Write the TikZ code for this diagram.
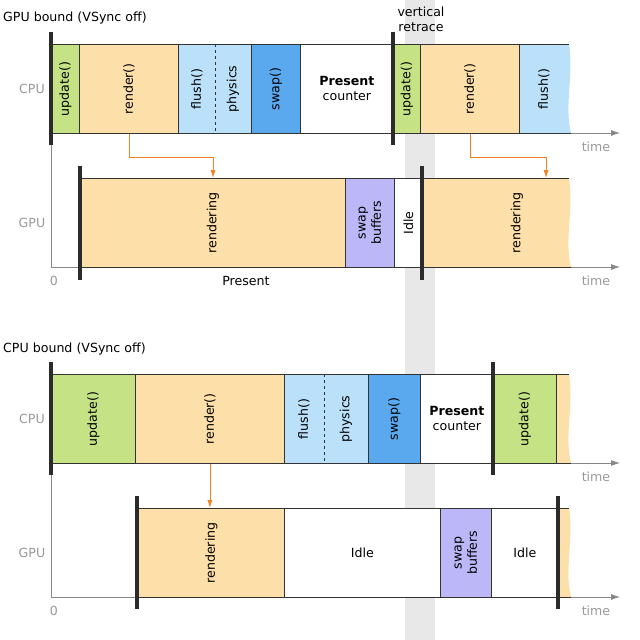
\documentclass[tikz,border=0pt]{standalone}
\usepackage{fontspec}
\setmainfont{DejaVu Sans}
\usetikzlibrary{arrows.meta,calc}
\definecolor{cgreen}{HTML}{C5E384}
\definecolor{corange}{HTML}{FDDFA9}
\definecolor{clblue}{HTML}{BBE0F9}
\definecolor{cblue}{HTML}{5AA9EF}
\definecolor{cpurple}{HTML}{BCB8F8}
\definecolor{cband}{HTML}{E8E8E8}
\definecolor{cedge}{HTML}{333333}
\definecolor{cbar}{HTML}{2B2B2B}
\definecolor{caxis}{HTML}{888888}
\definecolor{clab}{HTML}{999999}
\definecolor{carrow}{HTML}{F58220}
\tikzset{
  blk/.style={draw=cedge, line width=0.8pt, inner sep=0pt, anchor=north west, minimum height=89pt, text=black},
  bar/.style={line width=4.5pt, cbar},
  axis/.style={caxis, line width=0.8pt},
  axisarr/.style={axis, -{Latex[length=9pt,width=6pt]}},
  glab/.style={text=clab, inner sep=0pt},
  ordr/.style={carrow, line width=0.8pt, -{Latex[length=8pt,width=5pt]}},
  ttl/.style={inner sep=0pt, anchor=west}
}
\newcommand{\blk}[6]{\node[blk, fill=#5, minimum width={#3-#2}] (#1) at (#2,#4) {\rotatebox{90}{#6}};}
\newcommand{\blkh}[6]{\node[blk, fill=#5, minimum width={#3-#2}, align=center] (#1) at (#2,#4) {#6};}
\begin{document}
\begin{tikzpicture}[x=1pt,y=-1pt, font=\fontsize{12.6}{15}\selectfont]
\useasboundingbox (0,0) rectangle (640,640);
\fill[cband] (405,0) rectangle (435,640);
\node[ttl] (t1) at (3,18) {GPU bound (VSync off)};
\node[inner sep=0pt, align=center] (vr) at (421,19) {vertical\\retrace};
% ---------- top ----------
\node[glab] (cpu1) at (32,89) {CPU};
\node[glab] (gpu1) at (32,223) {GPU};
\coordinate (o1) at (51,133);
\coordinate (o1g) at (51,267);
\coordinate (e1) at (620,133);
\coordinate (e1g) at (620,267);
\draw[axis] (o1) -- (o1g);
\draw[axisarr] (o1) -- (e1);
\draw[axisarr] (o1g) -- (e1g);
\node[glab] (tm1) at (596,147) {time};
\node[glab] (tm1g) at (596,281) {time};
\node[glab] (z1) at (54,281) {0};
\blk{u1}{51}{79}{44}{cgreen}{update()}
\blk{r1}{79}{178}{44}{corange}{render()}
\node[blk, fill=clblue, minimum width=73pt] (fp1) at (178,44) {};
\draw[cedge, dashed, line width=0.6pt] (215,44) -- (215,133);
\node (fl1) at (197,89) {\rotatebox{90}{flush()}};
\node (ph1) at (233,89) {\rotatebox{90}{physics}};
\blk{s1}{251}{300}{44}{cblue}{swap()}
\blkh{p1}{300}{393}{44}{white}{\textbf{Present}\\counter}
\blk{u1b}{393}{420}{44}{cgreen}{update()}
\blk{r1b}{420}{519}{44}{corange}{render()}
\fill[clblue] (519,44) -- (569,44) .. controls (574,75) and (564,105) .. (571,133) -- (519,133) -- cycle;
\draw[cedge, line width=0.8pt] (569,44) -- (519,44) -- (519,133) -- (571,133);
\node (f1b) at (544,89) {\rotatebox{90}{flush()}};
% GPU top
\blk{g1}{80}{345}{178}{corange}{rendering}
\blk{sb1}{345}{394}{178}{cpurple}{\shortstack{swap\\buffers}}
\blk{i1}{394}{422}{178}{white}{Idle}
\fill[corange] (422,178) -- (569,178) .. controls (574,210) and (564,240) .. (571,267) -- (422,267) -- cycle;
\draw[cedge, line width=0.8pt] (569,178) -- (422,178) -- (422,267) -- (571,267);
\node (g1b) at (517,223) {\rotatebox{90}{rendering}};
\node[inner sep=0pt] (pr1) at (246,281) {Present};
% bars
\draw[bar] (51,32) -- (51,145);
\draw[bar] (393,32) -- (393,145);
\draw[bar] (80,166) -- (80,280);
\draw[bar] (422,166) -- (422,280);
% orange arrows
\coordinate (a1) at (213,178);
\coordinate (a2) at (546,178);
\draw[ordr] (r1.south) |- (213,157) -- (a1);
\draw[ordr] (r1b.south) |- (546,157) -- (a2);
% ---------- bottom ----------
\node[ttl] (t2) at (3,349) {CPU bound (VSync off)};
\node[glab] (cpu2) at (32,419) {CPU};
\node[glab] (gpu2) at (32,553) {GPU};
\coordinate (o2) at (51,463);
\coordinate (o2g) at (51,597);
\coordinate (e2) at (620,463);
\coordinate (e2g) at (620,597);
\draw[axis] (o2) -- (o2g);
\draw[axisarr] (o2) -- (e2);
\draw[axisarr] (o2g) -- (e2g);
\node[glab] (tm2) at (596,477) {time};
\node[glab] (tm2g) at (596,611) {time};
\node[glab] (z2) at (54,611) {0};
\blk{u2}{51}{135}{374}{cgreen}{update()}
\blk{r2}{135}{284}{374}{corange}{render()}
\node[blk, fill=clblue, minimum width=84pt] (fp2) at (284,374) {};
\draw[cedge, dashed, line width=0.6pt] (324,374) -- (324,463);
\node (fl2) at (304,419) {\rotatebox{90}{flush()}};
\node (ph2) at (346,419) {\rotatebox{90}{physics}};
\blk{s2}{368}{420}{374}{cblue}{swap()}
\blkh{p2}{420}{493}{374}{white}{\textbf{Present}\\counter}
\blk{u2b}{493}{556}{374}{cgreen}{update()}
\fill[corange] (556,374) -- (569,374) .. controls (574,405) and (564,435) .. (571,463) -- (556,463) -- cycle;
\draw[cedge, line width=0.8pt] (569,374) -- (556,374) -- (556,463) -- (571,463);
% GPU bottom
\blk{g2}{138}{284}{508}{corange}{rendering}
\blkh{i2}{284}{440}{508}{white}{Idle}
\blk{sb2}{440}{491}{508}{cpurple}{\shortstack{swap\\buffers}}
\blkh{i2b}{491}{558}{508}{white}{Idle}
\fill[corange] (558,508) -- (569,508) .. controls (574,540) and (564,570) .. (571,597) -- (558,597) -- cycle;
\draw[cedge, line width=0.8pt] (569,508) -- (558,508) -- (558,597) -- (571,597);
\draw[bar] (51,362) -- (51,475);
\draw[bar] (493,362) -- (493,475);
\draw[bar] (137,496) -- (137,609);
\draw[bar] (558,496) -- (558,609);
\draw[ordr] (r2.south) -- (g2.north -| r2.south);
\end{tikzpicture}
\end{document}
